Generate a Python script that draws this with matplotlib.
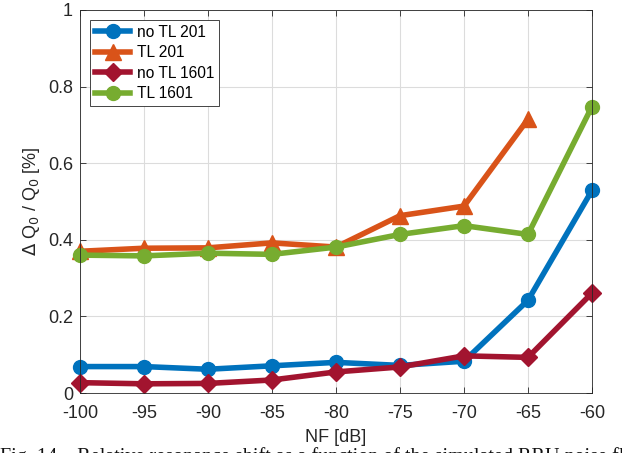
import matplotlib
matplotlib.use("Agg")
import matplotlib.pyplot as plt

plt.rcParams['font.family'] = ['Liberation Sans', 'DejaVu Sans']

nf = [-100, -95, -90, -85, -80, -75, -70, -65, -60]
no_tl_201 = [0.069, 0.069, 0.062, 0.071, 0.080, 0.072, 0.083, 0.242, 0.529]
tl_201 = [0.370, 0.378, 0.379, 0.392, 0.381, 0.463, 0.488, 0.715]
no_tl_1601 = [0.027, 0.024, 0.025, 0.034, 0.055, 0.068, 0.097, 0.093, 0.261]
tl_1601 = [0.360, 0.358, 0.365, 0.362, 0.381, 0.414, 0.437, 0.414, 0.748]

labels = ['no TL 201', 'TL 201', 'no TL 1601', 'TL 1601']
colors = ['#0072BD', '#D95319', '#A2142F', '#77AC30']
markers = ['o', '^', 'D', 'o']
msizes = [10, 11, 9, 10]

fig = plt.figure(figsize=(6.22, 4.53), dpi=100)
ax = fig.add_axes([80 / 622, 1 - 393 / 453, 512 / 622, 383 / 453])

series = [(nf, no_tl_201), (nf[:8], tl_201), (nf, no_tl_1601), (nf, tl_1601)]
for (x, y), lab, c, m, ms in zip(series, labels, colors, markers, msizes):
    ax.plot(x, y, color=c, marker=m, markersize=ms, linewidth=4, label=lab,
            markeredgecolor=c, clip_on=False)

ax.set_xlim(-100, -60)
ax.set_ylim(0, 1)
ax.set_xticks(nf)
ax.set_xticklabels([str(v) for v in nf])
ax.set_yticks([0, 0.2, 0.4, 0.6, 0.8, 1])
ax.set_yticklabels(['0', '0.2', '0.4', '0.6', '0.8', '1'])
ax.grid(True, color='#dcdcdc', linewidth=0.8)
ax.set_axisbelow(True)
for s in ax.spines.values():
    s.set_color('#262626')
    s.set_linewidth(0.6)
ax.tick_params(labelsize=13, colors='#262626', direction='in', length=4, width=0.6,
               top=True, right=True)
ax.tick_params(axis='x', pad=8.5)
ax.tick_params(axis='y', pad=5)
ax.set_xlabel('NF [dB]', fontsize=13, color='#262626', labelpad=5)
ax.set_ylabel(r'$\Delta$ Q$_0$ / Q$_0$ [%]', fontsize=13, color='#262626', labelpad=4)

leg = ax.legend(loc='upper left', bbox_to_anchor=(0.0195, 0.974), fontsize=11.2,
                handlelength=2.3, fancybox=False, framealpha=1, edgecolor='#262626',
                borderpad=0.3, labelspacing=0.35, handletextpad=0.4, borderaxespad=0)
leg.get_frame().set_linewidth(0.6)

fig.text(0.0, 1 - 447 / 453, 'Fig. 14.   Relative resonance shift as a function of the simulated RRU noise floor',
         fontsize=14.5, family='Liberation Serif', ha='left', va='top', color='#111111')

fig.savefig('out.png', dpi=100)
